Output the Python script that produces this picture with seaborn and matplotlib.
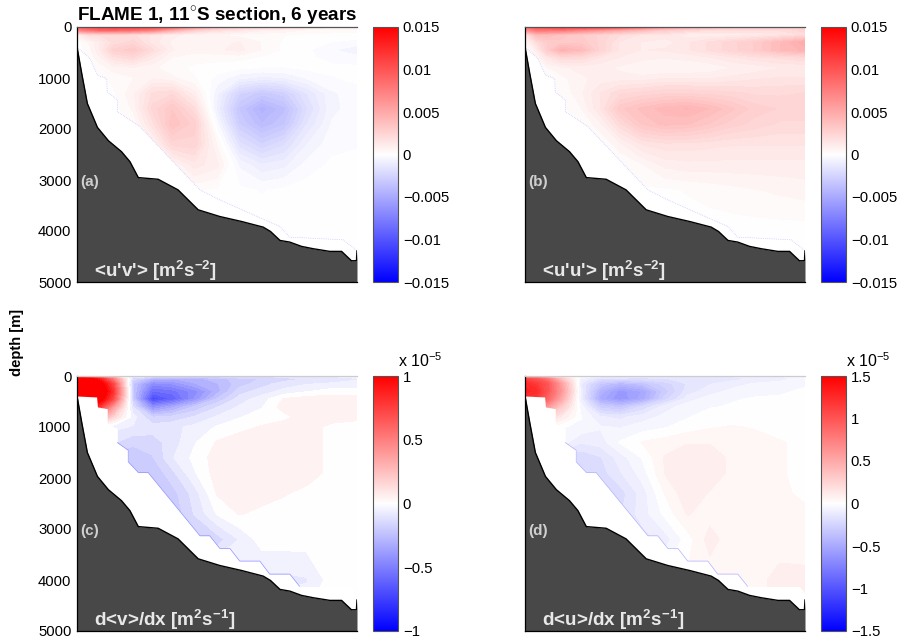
import numpy as np
import matplotlib
matplotlib.use("Agg")
import matplotlib.pyplot as plt
from matplotlib.cm import ScalarMappable
from matplotlib.colors import Normalize
import seaborn as sns

sns.set_style("white")
plt.rcParams["font.family"] = ["Liberation Sans", "DejaVu Sans"]
plt.rcParams["mathtext.fontset"] = "custom"
plt.rcParams["mathtext.bf"] = "Liberation Sans:bold"
plt.rcParams["mathtext.rm"] = "Liberation Sans"
plt.rcParams["text.color"] = "black"
plt.rcParams["ytick.color"] = "black"
plt.rcParams["axes.labelcolor"] = "black"

x_grid = [0, .04, .08, .13, .2, .27, .34, .42, .5, .58, .66, .74, .82, .91, 1]
z_grid = [0, 60, 150, 300, 450, 600, 800, 1000, 1300, 1600, 1900, 2300, 2700, 3200, 4000, 5000]

uv = [  # 1e-3 m2/s2
 [9, 10, 10.5, 11, 11, 10.5, 9, 6, 4, 3, 2.5, 2, 1.5, 1, 1],
 [7, 8, 9, 9, 8.5, 7.5, 5, 3, 2, 1.5, 1, .8, .5, .3, .3],
 [1, 2, 2, 2.2, 2, 1.5, 1, .7, .5, .4, .3, .2, .1, .1, 0],
 [0, .5, 1.2, 2, 2.4, 1.4, .8, .7, .8, .9, .5, .1, 0, -.2, -.3],
 [0, .3, 1.2, 2.7, 3.2, 2, .9, .7, .8, 1, .5, .1, -.1, -.5, -.8],
 [0, .2, .8, 1.8, 2.2, 1.3, .5, .3, .3, .3, .1, 0, -.1, -.3, -.4],
 [0, 0, .3, .7, .8, .6, .3, .1, 0, -.1, -.2, -.2, -.1, -.1, -.1],
 [0, 0, .1, .3, .5, .8, .6, .2, -.3, -.8, -1, -.9, -.5, -.2, -.1],
 [0, 0, 0, .1, .8, 2, 2.2, 1, -.8, -2.6, -3.2, -2.8, -1.6, -.6, -.3],
 [0, 0, 0, 0, .6, 2.4, 3.3, 2, -1, -3.4, -4.6, -3.8, -2, -.6, -.4],
 [0, 0, 0, 0, .2, 1.8, 3.6, 2.8, -.4, -3, -4, -3.4, -1.6, -.5, -.3],
 [0, 0, 0, 0, 0, .6, 2.4, 2.5, .5, -1.8, -2.6, -2, -.9, -.3, -.2],
 [0, 0, 0, 0, 0, 0, .5, 1.4, 1, -.6, -1.2, -1, -.4, -.1, -.1],
 [0, 0, 0, 0, 0, 0, 0, .2, .1, -.1, -.2, -.1, 0, 0, 0],
 [0, 0, 0, 0, 0, 0, 0, 0, 0, 0, 0, 0, 0, 0, 0],
 [0, 0, 0, 0, 0, 0, 0, 0, 0, 0, 0, 0, 0, 0, 0],
]
uu = [
 [8, 10, 10.5, 11, 11, 11, 10, 8, 6, 5, 4, 3.5, 3, 3, 3],
 [6, 8, 8, 8, 7, 6, 5, 4, 3, 2.5, 2, 2, 2, 2, 2.5],
 [1.5, 4, 4, 3.5, 3, 2.5, 2, 1.5, 1.5, 1, 1, 1, 1.2, 1.5, 2],
 [.5, 2, 3, 3.2, 3.2, 2.5, 1.5, 1.2, 1, 1.5, 2, 2.5, 3, 4, 5],
 [0, 1, 3, 4.5, 4, 2.5, 1.5, 1.2, 1.3, 1.5, 2, 2.5, 3, 4, 4.5],
 [0, .5, 1.5, 2.2, 2.2, 1.5, 1.2, 1, .9, 1, 1.2, 1.5, 1.8, 2, 2.2],
 [0, .1, .5, .8, 1, 1, .8, .5, .5, .5, .6, .9, 1, 1.2, 1.3],
 [0, 0, .2, .4, .8, 1, 1, 1, 1.2, 1.2, 1.2, 1.3, 1.5, 1.6, 1.6],
 [0, 0, .1, .2, .8, 1.6, 2.2, 2.4, 2.6, 2.6, 2.5, 2.4, 2.2, 2.2, 2.3],
 [0, 0, 0, .1, .5, 1.6, 3.2, 3.8, 4.2, 4.4, 4.0, 3.4, 2.8, 2.6, 2.5],
 [0, 0, 0, 0, .1, .8, 2.2, 3.4, 3.8, 3.7, 3.3, 2.8, 2.5, 2.2, 2.2],
 [0, 0, 0, 0, 0, .1, .8, 1.6, 1.8, 1.8, 1.7, 1.6, 1.6, 1.6, 1.6],
 [0, 0, 0, 0, 0, 0, .1, .5, 1, 1.1, 1.1, 1.1, 1.1, 1.1, 1.1],
 [0, 0, 0, 0, 0, 0, 0, .1, .1, .2, .3, .4, .5, .6, .7],
 [0, 0, 0, 0, 0, 0, 0, 0, 0, 0, 0, 0, 0, 0, 0],
 [0, 0, 0, 0, 0, 0, 0, 0, 0, 0, 0, 0, 0, 0, 0],
]
dvdx = [  # 1e-5
 [.4, .4, .3, .15, -.08, -.12, -.15, -.15, -.15, -.12, -.12, -.1, -.08, -.07, -.06],
 [1.2, 1.1, .9, .5, -.15, -.3, -.33, -.3, -.25, -.2, -.17, -.15, -.12, -.1, -.08],
 [1.3, 1.3, 1.1, .7, -.22, -.45, -.42, -.33, -.28, -.2, -.15, -.1, -.08, -.07, -.06],
 [1.4, 1.4, 1.2, .8, -.22, -.58, -.55, -.45, -.3, -.15, -.1, -.06, -.03, 0, 0],
 [1.3, 1.3, 1.1, .7, -.2, -.72, -.62, -.42, -.22, -.1, -.05, .03, .05, .05, .05],
 [1, .9, .8, .4, -.12, -.45, -.35, -.22, -.13, -.07, -.03, .05, .05, .05, .05],
 [.5, .5, .4, .15, -.05, -.18, -.16, -.12, -.07, -.03, 0, .01, .05, .05, .04],
 [0, 0, 0, -.06, -.08, -.1, -.09, -.06, -.02, .01, .03, .05, .05, .01, 0],
 [0, 0, 0, -.12, -.16, -.15, -.1, -.03, .03, .05, .05, .05, .05, .01, 0],
 [0, 0, 0, -.2, -.22, -.18, -.08, -.01, .05, .05, .05, .05, .05, .01, 0],
 [-.22, -.22, -.22, -.22, -.22, -.22, -.14, -.03, .05, .05, .05, .05, .05, .01, 0],
 [-.22, -.22, -.22, -.22, -.22, -.22, -.2, -.1, .03, .05, .05, .03, .01, 0, 0],
 [-.22, -.22, -.22, -.22, -.22, -.22, -.22, -.12, -.02, .03, .01, 0, 0, 0, 0],
 [-.2, -.2, -.2, -.2, -.2, -.2, -.2, -.2, -.15, -.07, 0, 0, 0, 0, 0],
 [0, 0, 0, 0, 0, 0, 0, 0, 0, 0, -.09, -.09, -.08, 0, 0],
 [0, 0, 0, 0, 0, 0, 0, 0, 0, 0, 0, 0, 0, 0, 0],
]
dudx = [  # 1e-5
 [.3, .3, .2, .1, -.03, -.1, -.12, -.14, -.14, -.14, -.13, -.12, -.1, -.08, -.03],
 [1.1, 1, .8, .35, -.08, -.2, -.2, -.2, -.18, -.16, -.15, -.14, -.12, -.1, -.04],
 [1.25, 1.15, 1, .55, -.12, -.33, -.42, -.35, -.25, -.17, -.13, -.1, -.07, -.05, -.03],
 [1.3, 1.25, 1, .6, -.1, -.45, -.6, -.52, -.3, -.15, -.1, -.06, -.04, -.03, -.02],
 [1.2, 1.15, .9, .5, -.1, -.5, -.62, -.5, -.25, -.1, -.05, -.03, -.02, -.02, -.02],
 [.8, .8, .6, .3, -.05, -.3, -.35, -.22, -.1, -.05, -.03, -.02, -.02, -.02, -.02],
 [.3, .3, .25, .12, -.02, -.12, -.14, -.1, -.06, -.03, 0, 0, 0, 0, 0],
 [0, 0, 0, -.02, -.04, -.07, -.08, -.05, -.03, 0, .02, .03, .02, 0, 0],
 [0, 0, 0, -.05, -.12, -.1, -.02, .03, .05, .07, .07, .05, .05, .03, .01],
 [0, 0, 0, -.18, -.22, -.18, -.1, -.02, .08, .11, .11, .06, .05, .03, .01],
 [-.22, -.22, -.22, -.22, -.22, -.2, -.13, -.05, .08, .11, .11, .06, .05, .03, .01],
 [-.22, -.22, -.22, -.22, -.22, -.22, -.2, -.1, .03, .11, .07, .05, .04, .03, .02],
 [-.22, -.22, -.22, -.22, -.22, -.22, -.18, -.1, -.01, .08, .05, .04, .03, .03, .03],
 [-.2, -.2, -.2, -.2, -.2, -.2, -.2, -.15, -.1, 0, .1, .04, .04, .04, .03],
 [0, 0, 0, 0, 0, 0, 0, 0, 0, .03, .04, .04, .05, .1, .1],
 [0, 0, 0, 0, 0, 0, 0, 0, 0, .03, .04, .04, .05, .1, .1],
]

bath_x = [0, .017, .037, .073, .112, .159, .189, .219, .29, .361, .433, .51, .588, .665,
          .691, .725, .76, .802, .844, .903, .945, .98, .998, 1.0]
bath_z = [391, 913, 1500, 1969, 2229, 2445, 2640, 2953, 2986, 3194, 3585, 3716, 3814, 3924,
          4009, 4185, 4218, 4302, 4348, 4400, 4400, 4583, 4583, 4387]
mask_ab_x = [0, .046, .073, .106, .108, .144, .144, .225, .439, .51, .617, .724, .76, .95, 1]
mask_ab_z = [391, 619, 945, 1010, 1271, 1434, 1662, 1956, 3194, 3390, 3651, 3911, 4120, 4172, 4387]
mask_cd_x = [0, .07, .073, .108, .108, .144, .144, .183, .183, .219, .254, .439, .474, .51,
             .546, .581, .653, .688, .76, .795, .98, 1]
mask_cd_z = [392, 411, 607, 640, 933, 1031, 1305, 1456, 1684, 1893, 1893, 3133, 3133, 3381,
             3381, 3629, 3629, 3884, 3884, 4125, 4125, 4262]

depth_ticks = [0, 1000, 2000, 3000, 4000, 5000]
cbar_ticks_ab = [-15, -10, -5, 0, 5, 10, 15]
cbar_labels_ab = ["\u22120.015", "\u22120.01", "\u22120.005", "0", "0.005", "0.01", "0.015"]
cbar_ticks_c = [-1, -.5, 0, .5, 1]
cbar_labels_c = ["\u22121", "\u22120.5", "0", "0.5", "1"]
cbar_ticks_d = [-1.5, -1, -.5, 0, .5, 1, 1.5]
cbar_labels_d = ["\u22121.5", "\u22121", "\u22120.5", "0", "0.5", "1", "1.5"]

W, H = 905, 643
cmap = sns.blend_palette(["#0000ff", "#ffffff", "#ff0000"], n_colors=255, as_cmap=True)
fig = plt.figure(figsize=(W / 100, H / 100), dpi=100, facecolor="white")


def pix_axes(l, t, r, b):
    return fig.add_axes([l / W, 1 - b / H, (r - l) / W, (b - t) / H])


def panel(l, t, field, vmax, step, mask_x, mask_z, tag, label, ticks, labels, show_y, edge, top_col):
    ax = pix_axes(l, t, l + 280, t + 255)
    n = int(round(vmax / step))
    levels = (np.arange(-n, n + 1) + 0.5) * step
    levels = np.concatenate([[-vmax * 3 - step * .5], levels[:-1], [vmax * 3]])
    ax.contourf(x_grid, z_grid, np.array(field), levels=levels, cmap=cmap,
                norm=Normalize(-vmax, vmax), antialiased=False, zorder=1)
    ax.fill_between(mask_x, mask_z, 5000, color="white", lw=0, zorder=2)
    if tag in ("(a)", "(b)"):
        ax.plot(mask_x, mask_z, color=edge, lw=.5, ls=":", zorder=2.5)
    else:
        ax.plot(mask_x[6:20], mask_z[6:20], color=edge, lw=.5, zorder=2.5)
    ax.fill_between(bath_x, bath_z, 5000, color="#484848", lw=0, zorder=3)
    sns.lineplot(x=bath_x, y=bath_z, ax=ax, color="black", lw=1, sort=False,
                 estimator=None, zorder=4, legend=False)
    ax.set_xlim(0, 1)
    ax.set_ylim(5000, 0)
    ax.set_xticks([])
    ax.set_xlabel("")
    ax.set_ylabel("")
    ax.set_yticks(depth_ticks)
    ax.tick_params(axis="y", length=0, pad=4, labelsize=10.7, labelleft=show_y)
    for side, sp in ax.spines.items():
        sp.set_color("black")
        sp.set_linewidth(.9)
        sp.set_zorder(6)
    ax.spines["right"].set_visible(False)
    ax.spines["top"].set_color(top_col)
    ax.text(.012, 3040, tag, color="#cfcfcf", fontsize=11, fontweight="bold", va="center", zorder=7)
    ax.text(.06, 4780, label, color="#e8e8e8", fontsize=13.6, fontweight="bold", va="center", zorder=7)

    cax = pix_axes(l + 296, t, l + 321, t + 255)
    sm = ScalarMappable(norm=Normalize(-vmax, vmax), cmap=cmap)
    cb = fig.colorbar(sm, cax=cax)
    cb.set_ticks(ticks)
    cb.set_ticklabels(labels)
    cb.ax.tick_params(length=0, pad=3.5, labelsize=10.7)
    cb.outline.set_edgecolor("#555555")
    cb.outline.set_linewidth(.8)
    return ax


uv_label = r"<u'v'> [m$^{\mathbf{2}}$s$^{\mathbf{-2}}$]"
uu_label = r"<u'u'> [m$^{\mathbf{2}}$s$^{\mathbf{-2}}$]"
dv_label = r"d<v>/dx [m$^{\mathbf{2}}$s$^{\mathbf{-1}}$]"
du_label = r"d<u>/dx [m$^{\mathbf{2}}$s$^{\mathbf{-1}}$]"

ax_a = panel(77, 27, uv, 15, .35, mask_ab_x, mask_ab_z, "(a)", uv_label,
             cbar_ticks_ab, cbar_labels_ab, True, "#b8b8ff", "#555555")
ax_b = panel(525, 27, uu, 15, .35, mask_ab_x, mask_ab_z, "(b)", uu_label,
             cbar_ticks_ab, cbar_labels_ab, False, "#b8b8ff", "#555555")
ax_c = panel(77, 376, dvdx, 1, .05, mask_cd_x, mask_cd_z, "(c)", dv_label,
             cbar_ticks_c, cbar_labels_c, True, "#9090ff", "#cccccc")
ax_d = panel(525, 376, dudx, 1.5, .05, mask_cd_x, mask_cd_z, "(d)", du_label,
             cbar_ticks_d, cbar_labels_d, False, "#b0b0ff", "#cccccc")

ax_a.text(0, 1.0, r"FLAME 1, 11$^{\circ}$S section, 6 years", transform=ax_a.transAxes,
          fontsize=13.6, fontweight="bold", va="bottom", ha="left")
fig.text(17 / W, 1 - 342 / H, "depth [m]", rotation=90, fontsize=10.6, fontweight="bold",
         ha="center", va="center")
fig.text(398 / W, 1 - 361 / H, r"x 10$^{-5}$", fontsize=11.5, ha="left", va="center")
fig.text(846 / W, 1 - 361 / H, r"x 10$^{-5}$", fontsize=11.5, ha="left", va="center")

fig.savefig("out.png", dpi=100)
